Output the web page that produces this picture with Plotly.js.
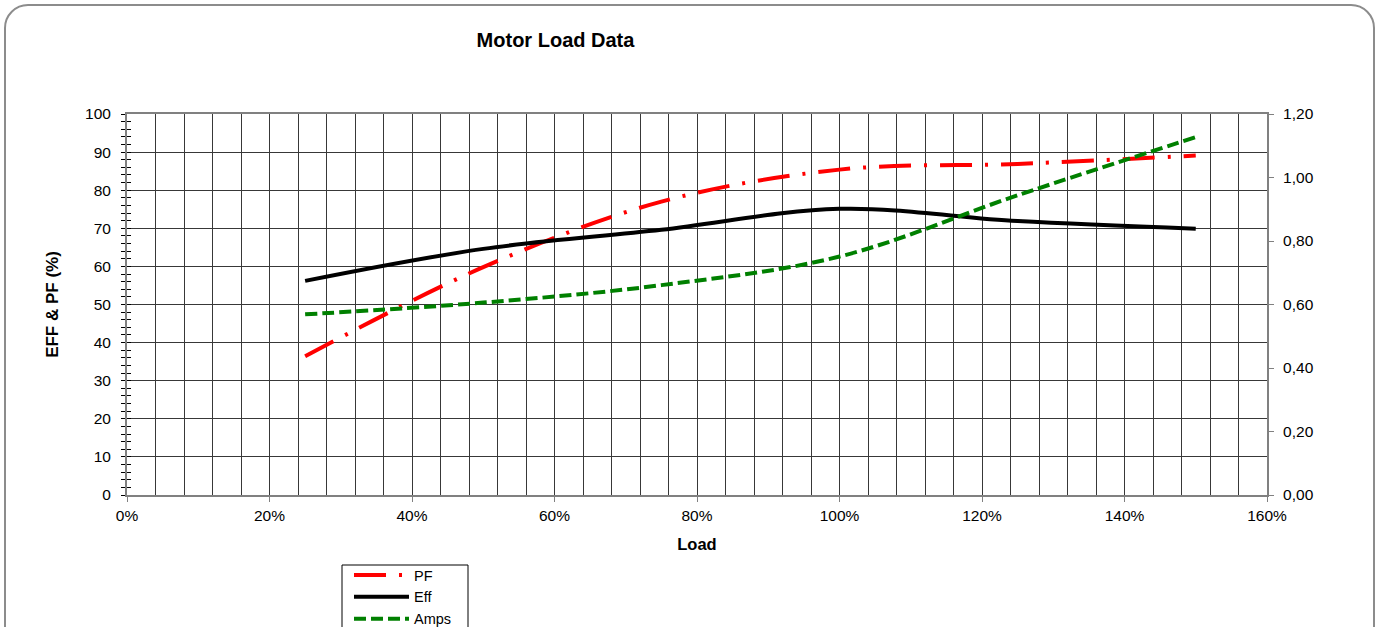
<!DOCTYPE html>
<html>
<head>
<meta charset="utf-8">
<script src="https://cdn.plot.ly/plotly-3.0.1.min.js"></script>
<style>
  html, body { margin: 0; padding: 0; background: #ffffff; overflow: hidden; }
  #chart { width: 1379px; height: 627px; position: absolute; left: 0; top: 0; }
  #frame { position: absolute; left: 4px; top: 4px; width: 1367px; height: 700px;
           border: 2px solid #8c8c8c; border-radius: 24px; pointer-events: none; }
</style>
</head>
<body>
<div id="chart"></div>
<div id="frame"></div>
<script>
// ---- data ----
const load = [0.25, 0.50, 0.75, 1.00, 1.25, 1.50];
const pf   = [36.4, 59.8, 77.0, 85.4, 86.9, 89.1];
const eff  = [56.2, 64.6, 69.6, 75.1, 71.9, 69.9];
const amps = [0.569, 0.606, 0.661, 0.751, 0.944, 1.127];
const seriesNames = ['PF', 'Eff', 'Amps'];
const chartTitle = 'Motor Load Data';
const xTitle = 'Load';
const yTitle = 'EFF & PF (%)';

const FONT = 'Liberation Sans, Arial, sans-serif';

const traces = [
  { x: load, y: pf, name: seriesNames[0], type: 'scatter', mode: 'lines',
    line: { color: '#ff0000', width: 4, shape: 'spline', smoothing: 1, dash: '32px,13px,3px,13px' },
    yaxis: 'y' },
  { x: load, y: eff, name: seriesNames[1], type: 'scatter', mode: 'lines',
    line: { color: '#000000', width: 4, shape: 'spline', smoothing: 1 },
    yaxis: 'y' },
  { x: load, y: amps, name: seriesNames[2], type: 'scatter', mode: 'lines',
    line: { color: '#008000', width: 4, shape: 'spline', smoothing: 1, dash: '12px,5px' },
    yaxis: 'y2' },
  { x: [], y: [], yaxis: 'y3', showlegend: false, hoverinfo: 'skip', type: 'scatter', mode: 'lines' }
];

// plot-area pixel helpers for the legend frame
const PL = 127, PW = 1140, PB = 495, PH = 381;
const px = v => (v - PL) / PW;
const py = v => (PB - v) / PH;

const layout = {
  width: 1379, height: 627,
  paper_bgcolor: 'rgba(0,0,0,0)', plot_bgcolor: '#ffffff',
  separators: ',.',
  margin: { l: 127, r: 112, t: 114, b: 132, autoexpand: false },
  font: { family: FONT, size: 15.5, color: '#000000' },
  title: { text: chartTitle, x: 555.5 / 1379, xanchor: 'center', xref: 'container',
           y: 1 - 40 / 627, yanchor: 'middle', yref: 'container',
           font: { family: FONT, size: 20, weight: 'bold', color: '#000000' } },
  showlegend: true,
  legend: { x: px(349), xanchor: 'left', y: py(559), yanchor: 'top',
            bgcolor: 'rgba(0,0,0,0)', borderwidth: 0, itemwidth: 55,
            font: { family: FONT, size: 14.5, color: '#000000' }, traceorder: 'normal' },
  shapes: [
    { type: 'rect', xref: 'paper', yref: 'paper', layer: 'above',
      x0: px(342), x1: px(468), y0: py(565), y1: py(640),
      line: { color: '#000000', width: 1 }, fillcolor: '#ffffff' }
  ],
  xaxis: {
    range: [0, 1.6], dtick: 0.2, tick0: 0, tickformat: '.0%',
    showgrid: true, gridcolor: '#383838', gridwidth: 1,
    minor: { dtick: 0.04, tick0: 0, showgrid: true, gridcolor: '#383838', gridwidth: 1, ticks: '' },
    ticks: 'outside', ticklen: 5, tickcolor: '#808080', tickwidth: 1,
    showline: true, linecolor: '#808080', linewidth: 2, mirror: true,
    zeroline: false,
    tickfont: { family: FONT, size: 15.5 },
    title: { text: xTitle, font: { family: FONT, size: 16.5, weight: 'bold' }, standoff: 16 }
  },
  yaxis: {
    range: [0, 100], dtick: 10, tick0: 0,
    showgrid: true, gridcolor: '#383838', gridwidth: 1,
    ticks: 'outside', ticklen: 4, tickcolor: '#000000', tickwidth: 1,
    minor: { dtick: 2, tick0: 0, ticks: 'outside', ticklen: 4, tickcolor: '#000000', showgrid: false },
    showline: true, linecolor: '#808080', linewidth: 2, mirror: true,
    zeroline: false, ticklabelstandoff: 7,
    tickfont: { family: FONT, size: 15.5 },
    title: { text: yTitle, font: { family: FONT, size: 17, weight: 'bold' }, standoff: 22 }
  },
  yaxis3: {
    range: [0, 100], dtick: 10, tick0: 0, overlaying: 'y', side: 'left',
    showgrid: false, zeroline: false, showline: false, showticklabels: false,
    ticks: 'inside', ticklen: 4, tickcolor: '#000000', tickwidth: 1,
    minor: { dtick: 2, tick0: 0, ticks: 'inside', ticklen: 4, tickcolor: '#000000', showgrid: false }
  },
  yaxis2: {
    range: [0, 1.2], dtick: 0.2, tick0: 0, tickformat: '.2f', overlaying: 'y', side: 'right',
    showgrid: false, zeroline: false,
    ticks: 'outside', ticklen: 5, tickcolor: '#808080', tickwidth: 1,
    showline: true, linecolor: '#808080', linewidth: 2,
    ticklabelstandoff: 6,
    tickfont: { family: FONT, size: 15.5 }
  }
};

Plotly.newPlot('chart', traces, layout, { staticPlot: true, displayModeBar: false });
</script>
</body>
</html>
